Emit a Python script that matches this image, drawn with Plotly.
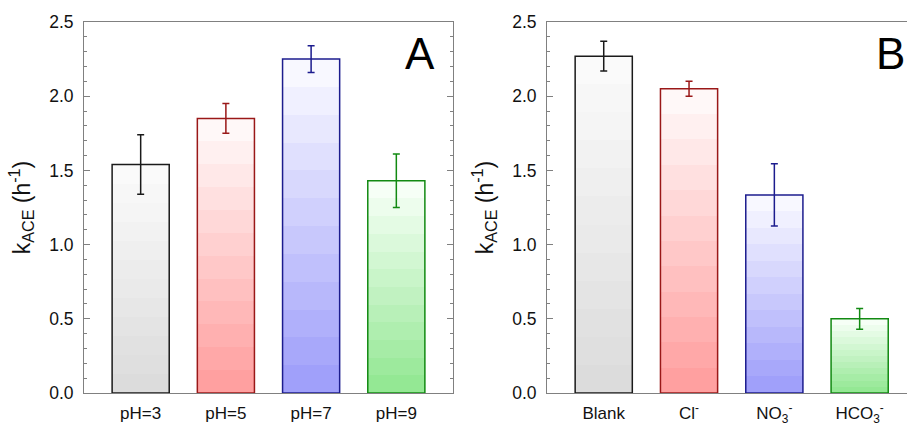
import plotly.graph_objects as go

# ---- data ----
cats_a = ["pH=3", "pH=5", "pH=7", "pH=9"]
vals_a = [1.54, 1.85, 2.25, 1.43]
errs_a = [0.20, 0.10, 0.09, 0.18]

cats_b = ["Blank", "Cl<sup>-</sup>", "NO<sub>3</sub><sup>-</sup>", "HCO<sub>3</sub><sup>-</sup>"]
vals_b = [2.27, 2.05, 1.335, 0.50]
errs_b = [0.10, 0.05, 0.21, 0.07]

# ---- styles ----
edge_cols = ["#1a1a1a", "#9a1818", "#1c1c8e", "#128a12"]
bottom_cols = [(220, 220, 220), (255, 160, 160), (160, 160, 250), (148, 232, 148)]
top_cols = [(250, 250, 250), (255, 248, 248), (248, 248, 255), (246, 255, 246)]
BAR_W = 0.67
NBANDS = 12


def stepped_scale(c0, c1, n=NBANDS):
    scale = []
    for i in range(n):
        t = i / (n - 1)
        col = tuple(round(c0[k] + (c1[k] - c0[k]) * t) for k in range(3))
        cs = "rgb(%d,%d,%d)" % col
        scale.append([i / n, cs])
        scale.append([(i + 1) / n, cs])
    return scale


fig = go.Figure()


def add_panel(cats, vals, errs, xa, ya):
    for i, (v, e) in enumerate(zip(vals, errs)):
        x0, x1 = i - BAR_W / 2, i + BAR_W / 2
        # bar body with banded vertical gradient and outline
        fig.add_trace(go.Scatter(
            x=[x0, x0, x1, x1, x0], y=[0, v, v, 0, 0],
            fill="toself", mode="lines",
            line=dict(width=1.5, color=edge_cols[i]),
            fillgradient=dict(type="vertical",
                              colorscale=stepped_scale(bottom_cols[i], top_cols[i])),
            xaxis=xa, yaxis=ya, showlegend=False, hoverinfo="skip"))
    # error bars drawn on top
    for i, (v, e) in enumerate(zip(vals, errs)):
        fig.add_trace(go.Scatter(
            x=[i], y=[v], mode="markers", marker=dict(size=1, opacity=0),
            error_y=dict(type="data", array=[e], color=edge_cols[i], thickness=1.5, width=3.5),
            xaxis=xa, yaxis=ya, showlegend=False,
            hovertemplate="%{y:.2f} ± " + "%.2f" % e + "<extra></extra>"))


add_panel(cats_a, vals_a, errs_a, "x", "y")
add_panel(cats_b, vals_b, errs_b, "x2", "y2")

font_family = "Liberation Sans, Arial, sans-serif"
axis_gray = "#808080"

xcommon = dict(showline=True, linecolor=axis_gray, linewidth=1, mirror=True,
               ticks="", showgrid=False, zeroline=False, automargin=False,
               tickfont=dict(size=17, color="#111"), tickmode="array",
               tickvals=[0, 1, 2, 3], ticklabelstandoff=5)
ycommon = dict(range=[0, 2.5], showline=True, linecolor=axis_gray, linewidth=1,
               ticks="inside", ticklen=6, tickcolor=axis_gray, tickwidth=1,
               dtick=0.5, tickformat=".1f", showgrid=False, zeroline=False, automargin=False,
               tickfont=dict(size=17.5, color="#111"), ticklabelstandoff=6,
               minor=dict(ticks="inside", ticklen=3, dtick=0.1, tickcolor=axis_gray, showgrid=False),
               title=dict(text="k<sub>ACE</sub> (h<sup>-1</sup>)", font=dict(size=23, color="#111"),
                          standoff=12))

fig.update_layout(
    width=907, height=426,
    margin=dict(l=0, r=0, t=22, b=33),
    paper_bgcolor="white", plot_bgcolor="white",
    font=dict(family=font_family, color="#111"),
    xaxis=dict(domain=[84 / 907, 453 / 907], range=[-0.665, 3.665],
               ticktext=cats_a, **xcommon),
    yaxis=dict(anchor="x", mirror="ticks", **ycommon),
    xaxis2=dict(domain=[547 / 907, 1.0], range=[-0.665, 3.555],
                ticktext=cats_b, anchor="y2", **xcommon),
    yaxis2=dict(anchor="x2", **ycommon),
)

fig.add_annotation(text="A", xref="x domain", yref="y domain", x=0.91, y=0.914,
                   showarrow=False, font=dict(size=44, color="black"),
                   xanchor="center", yanchor="middle")
fig.add_annotation(text="B", xref="x2 domain", yref="y2 domain", x=0.953, y=0.914,
                   showarrow=False, font=dict(size=44, color="black"),
                   xanchor="center", yanchor="middle")

fig.write_html("out.html")
